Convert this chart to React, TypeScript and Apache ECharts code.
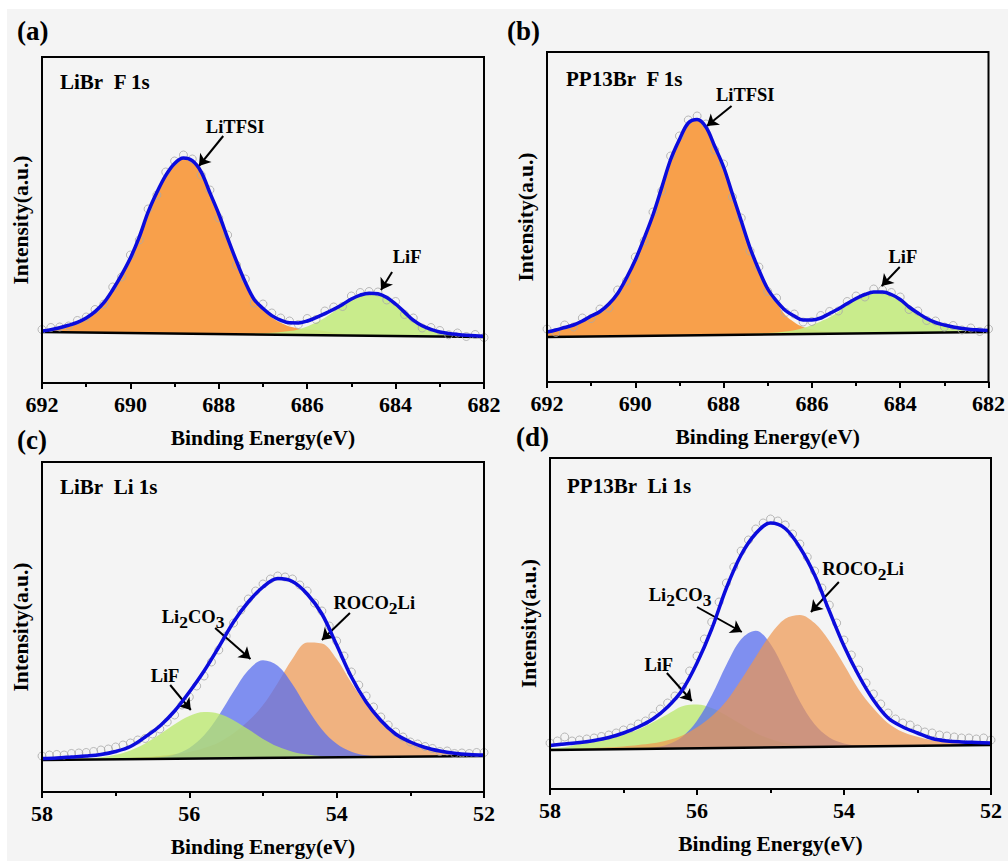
import React, { useEffect, useRef } from "react";
import * as echarts from "echarts";

// ---- Binding-energy grids (eV) ----
const energyF = [
  692, 691.8, 691.6, 691.4, 691.2, 691, 690.8, 690.6, 690.4, 690.2,
  690, 689.8, 689.6, 689.4, 689.2, 689, 688.8, 688.6, 688.4, 688.2,
  688, 687.8, 687.6, 687.4, 687.2, 687, 686.8, 686.6, 686.4, 686.2,
  686, 685.8, 685.6, 685.4, 685.2, 685, 684.8, 684.6, 684.4, 684.2,
  684, 683.8, 683.6, 683.4, 683.2, 683, 682.8, 682.6, 682.4, 682.2,
  682,
];
const energyLi = [
  58, 57.8, 57.6, 57.4, 57.2, 57, 56.8, 56.6, 56.4, 56.2,
  56, 55.8, 55.6, 55.4, 55.2, 55, 54.8, 54.6, 54.4, 54.2,
  54, 53.8, 53.6, 53.4, 53.2, 53, 52.8, 52.6, 52.4, 52.2,
  52,
];
const energyLiRaw = [
  58, 57.9, 57.8, 57.7, 57.6, 57.5, 57.4, 57.3, 57.2, 57.1,
  57, 56.9, 56.8, 56.7, 56.6, 56.5, 56.4, 56.3, 56.2, 56.1,
  56, 55.9, 55.8, 55.7, 55.6, 55.5, 55.4, 55.3, 55.2, 55.1,
  55, 54.9, 54.8, 54.7, 54.6, 54.5, 54.4, 54.3, 54.2, 54.1,
  54, 53.9, 53.8, 53.7, 53.6, 53.5, 53.4, 53.3, 53.2, 53.1,
  53, 52.9, 52.8, 52.7, 52.6, 52.5, 52.4, 52.3, 52.2, 52.1,
  52,
];

// ---- (a) LiBr, F 1s ----
const aRaw = [
  53.5, 55.5, 56, 57, 62.5, 66, 73.5, 79, 96, 106,
  128, 143, 174, 188, 211, 222, 228, 224, 208, 193,
  165, 148, 118, 104, 80, 79, 70, 65, 62, 58.5,
  64.5, 63.5, 72, 76, 76.5, 87, 90.5, 91.5, 91, 83,
  81.5, 68.5, 65, 55, 55.5, 52.5, 48.2, 50, 46.5, 48.5,
  45.5,
];
const aFit = [
  52, 53.4, 55.3, 57.7, 60.6, 65, 71.4, 80.3, 93.2, 108.1,
  125, 145.9, 170.8, 190.7, 207.6, 219.5, 224.9, 222.3, 211.2, 190.1,
  169, 144.9, 121.8, 100.7, 83.6, 74.5, 67.4, 62.8, 60.2, 60.1,
  62, 65.4, 69.3, 73.7, 78.6, 84, 87.9, 89.8, 89.2, 85.6,
  79, 70.9, 62.8, 57.2, 53.6, 51, 49.6, 48.6, 47.8, 47.2,
  46.8,
];
const aLiTFSI = [
  52, 53.4, 55.3, 57.7, 60.6, 65, 71.4, 80.3, 93.2, 108.1,
  125, 145.9, 170.8, 190.7, 207.6, 219.5, 224.9, 222.3, 211.2, 190.1,
  168.7, 144.5, 121.3, 100, 82.6, 73.2, 65.6, 60.2, 56.4, 54.6,
  53.5, 52.9, 51.8, 50.2, 49.3, 48.6, 48.4, 47.8, 47.5, 47.3,
  47.2, 47.1, 47, 46.9, 46.8, 46.7, 46.6, 46.5, 46.4, 46.3,
  46.2,
];
const aLiF = [
  51, 50.9, 50.8, 50.7, 50.6, 50.5, 50.4, 50.3, 50.2, 50.1,
  50, 49.9, 49.8, 49.7, 49.6, 49.5, 49.4, 49.3, 49.2, 49.1,
  49.3, 49.3, 49.3, 49.4, 49.6, 49.8, 50.2, 50.9, 52, 53.6,
  56.5, 60.4, 65.3, 71.2, 77.1, 82.5, 86.9, 89.6, 89, 85.5,
  79, 70.9, 62.8, 57.2, 53.6, 51, 49.6, 48.6, 47.8, 47.2,
  46.8,
];
const aBackground = [[692, 51], [682, 46]];

// ---- (b) PP13Br, F 1s ----
const bRaw = [
  53, 49.5, 57, 55, 64, 63.5, 73, 74, 92, 101,
  125, 141, 170, 191, 226, 246, 262, 266, 258, 232,
  218, 185, 164, 131, 115, 90.5, 84, 69.5, 68, 60,
  60.5, 66.5, 70.5, 71, 80.5, 86, 85, 93, 92, 89.5,
  85, 72.5, 71, 61.5, 61, 55, 56.5, 52, 54, 50.5,
  53,
];
const bFit = [
  50, 52, 54.5, 57, 61, 66, 70.5, 78, 88.6, 104,
  122, 143.7, 167, 194.6, 222.5, 242.6, 259, 262.5, 255, 235.5,
  215, 188, 161, 134, 112, 93, 81, 71.5, 66, 62,
  62, 64, 68.5, 73, 78.5, 83.5, 87.5, 90, 90, 87.5,
  82.5, 75, 69, 63.5, 59.5, 57, 55, 53.5, 52.5, 52,
  51.5,
];
const bLiTFSI = [
  50, 52, 54.5, 57, 61, 66, 70.5, 78, 88.6, 104,
  122, 143.7, 167, 194.6, 222.5, 242.6, 259, 262.5, 255, 235.5,
  214.6, 187.5, 160.3, 133.1, 110.9, 91.6, 79.2, 66.7, 59.8, 54.9,
  52.5, 51.1, 50.2, 49.8, 49.4, 49, 48.9, 48.8, 48.9, 49,
  49.1, 49.2, 49.3, 49.4, 49.5, 49.6, 49.7, 49.8, 49.9, 50,
  50.1,
];
const bLiF = [
  45, 45.1, 45.2, 45.3, 45.4, 45.5, 45.6, 45.7, 45.8, 45.9,
  46, 46.1, 46.2, 46.3, 46.4, 46.5, 46.6, 46.7, 46.8, 46.9,
  47.4, 47.6, 47.9, 48.2, 48.5, 48.9, 49.4, 50.5, 51.8, 53.9,
  57, 60.6, 64.7, 70.3, 76.9, 82.5, 87.1, 89.6, 89.7, 86.8,
  81.6, 74.9, 68.7, 63.3, 59.4, 57, 55, 53.5, 52.5, 52,
  51.5,
];
const bBackground = [[692, 45], [682, 50]];

// ---- (c) LiBr, Li 1s ----
const cRaw = [
  36, 37, 37.5, 37, 38.5, 39, 39.5, 40.5, 42, 43,
  45, 47, 49, 52, 53.5, 58, 63, 70, 77, 87,
  95, 106, 116, 130, 142, 156, 169, 182, 193, 201,
  208, 213, 216, 215, 213, 207, 201, 189, 181, 166,
  151, 136, 120, 107, 96, 85, 75, 67, 60, 55,
  50, 48, 45.5, 43.5, 40.5, 41, 38.5, 39, 38.5, 39.5,
  39.5,
];
const cFit = [
  33.5, 34, 35, 36, 37.5, 40.5, 45.5, 55, 66, 81,
  100, 121, 145, 170, 190, 205, 213.5, 210.5, 198, 178,
  147, 115, 90, 71.5, 58, 50, 44.5, 41, 38.7, 37.5,
  37,
];
const cLiF = [
  32.3, 32.6, 33.1, 33.7, 34.8, 37.3, 41.6, 48.5, 57.8, 67.7,
  75.9, 79.9, 78.3, 71.8, 62.7, 53.1, 45.4, 40.3, 37.4, 35.8,
  35.3, 35.1, 35, 35.1, 35.2, 35.3, 35.5, 35.6, 35.7, 35.9,
  36,
];
const cLi2CO3 = [
  32, 32.1, 32.3, 32.4, 32.5, 33, 33.3, 33.7, 34.7, 37.4,
  44, 56.7, 76.6, 100.4, 121.8, 131.8, 126.2, 107.7, 83.7, 62.6,
  48.2, 40.3, 36.8, 35.8, 35.5, 35.3, 35.5, 35.6, 35.7, 35.9,
  36,
];
const cROCO2Li = [
  32.5, 32.7, 33, 33.2, 33.4, 33.8, 34.3, 34.9, 36.1, 37.7,
  40.1, 44, 49.6, 58.7, 70.9, 87, 109.1, 133.3, 149.4, 148.5,
  132.9, 109.2, 87.9, 70.8, 57.7, 50, 44.5, 41, 38.7, 37.5,
  37,
];
const cBackground = [[58, 32], [52, 36]];

// ---- (d) PP13Br, Li 1s ----
const dRaw = [
  46, 48, 52, 48, 49, 50, 51, 52.5, 54, 56,
  59, 61, 65, 68, 73, 80, 86, 93, 102, 118,
  133, 150, 167, 187, 206, 222, 238, 249, 260, 266,
  270, 268, 264, 255, 245, 232, 218, 201, 184, 166,
  149, 134, 119, 106, 95, 85, 76, 70, 66, 64,
  60, 57, 56, 54, 53, 52, 51, 51, 50, 51,
  49,
];
const dFit = [
  43.5, 45, 46.5, 48.5, 51.5, 56, 62, 70, 82, 99,
  126, 160, 201, 234, 255.5, 266, 260.5, 241.5, 214, 178,
  143, 113.5, 89, 71, 62, 56, 50.5, 48, 47, 46.5,
  46,
];
const dLiF = [
  40.5, 41.7, 45.3, 48.5, 50.7, 54.3, 59.5, 66.7, 74.8, 82.8,
  84.6, 81.1, 73.6, 64.7, 56.1, 49.9, 45.9, 43.6, 42.8, 42.6,
  42.5, 42.7, 42.9, 43, 43.2, 43.3, 43.5, 43.6, 43.8, 44,
  44.1,
];
const dLi2CO3 = [
  39, 39.2, 39.3, 39.5, 39.7, 39.9, 40.3, 41.4, 44.5, 52.3,
  68.2, 93.4, 124.3, 149.8, 158.3, 145.1, 117.5, 87.5, 64.7, 51.5,
  45.5, 43.4, 42.9, 42.8, 43, 43.2, 43.3, 43.5, 43.7, 43.8,
  44,
];
const dROCO2Li = [
  39.5, 39.9, 40.3, 40.9, 41.7, 42.6, 44, 45.7, 48.8, 53.5,
  61.7, 72.8, 88, 109.2, 132.3, 154.5, 170.2, 174.1, 165.9, 148,
  124.3, 99.5, 80.7, 65.8, 57, 52.2, 48.8, 47.2, 46.2, 45.3,
  44.8,
];
const dBackground = [[58, 39], [52, 44]];

// ---- styling ----
const SERIF = '"Liberation Serif", "Times New Roman", Times, serif';
const BG = "#f4f4f4";
const FIT_BLUE = "#0b0bdc";
const ORANGE_SOLID = "#f8a04b";
const GREEN_SOFT = "rgba(196, 234, 130, 0.92)";
const ORANGE_T = "rgba(238, 149, 78, 0.7)";
const BLUE_T = "rgba(88, 109, 239, 0.75)";
const GREEN_T = "rgba(185, 232, 105, 0.75)";

type Note = { text: string; at: number[]; from: number[]; tip: number[] };
type Peak = { name: string; values: number[]; color: string };
type Panel = {
  grid: { left: number; top: number; width: number; height: number };
  xMin: number;
  xMax: number;
  yMax: number;
  energy: number[];
  rawEnergy: number[];
  raw: number[];
  fit: number[];
  background: number[][];
  peaks: Peak[];
  notes: Note[];
};

const zip = (xs: number[], ys: number[]) => xs.map((x, i) => [x, ys[i]]);

const panels: Panel[] = [
  {
    grid: { left: 42, top: 57, width: 442, height: 326 },
    xMin: 682, xMax: 692, yMax: 326,
    energy: energyF, rawEnergy: energyF,
    raw: aRaw, fit: aFit, background: aBackground,
    peaks: [
      { name: "LiTFSI", values: aLiTFSI, color: ORANGE_SOLID },
      { name: "LiF", values: aLiF, color: GREEN_SOFT },
    ],
    notes: [
      { text: "{m|LiTFSI}", at: [687.63, 256], from: [687.9, 247], tip: [688.45, 217] },
      { text: "{m|LiF}", at: [683.74, 126], from: [684.08, 111], tip: [684.33, 93] },
    ],
  },
  {
    grid: { left: 547, top: 52, width: 443, height: 330 },
    xMin: 682, xMax: 692, yMax: 330,
    energy: energyF, rawEnergy: energyF,
    raw: bRaw, fit: bFit, background: bBackground,
    peaks: [
      { name: "LiTFSI", values: bLiTFSI, color: ORANGE_SOLID },
      { name: "LiF", values: bLiF, color: GREEN_SOFT },
    ],
    notes: [
      { text: "{m|LiTFSI}", at: [687.51, 287], from: [687.82, 276], tip: [688.38, 256] },
      { text: "{m|LiF}", at: [683.94, 125], from: [684.01, 115], tip: [684.42, 96] },
    ],
  },
  {
    grid: { left: 42, top: 462, width: 442, height: 330 },
    xMin: 52, xMax: 58, yMax: 330,
    energy: energyLi, rawEnergy: energyLiRaw,
    raw: cRaw, fit: cFit, background: cBackground,
    peaks: [
      { name: "ROCO2Li", values: cROCO2Li, color: ORANGE_T },
      { name: "Li2CO3", values: cLi2CO3, color: BLUE_T },
      { name: "LiF", values: cLiF, color: GREEN_T },
    ],
    notes: [
      { text: "{m|LiF}", at: [56.33, 116], from: [56.26, 107], tip: [55.98, 82] },
      { text: "{m|Li}{s|2}{m|CO}{s|3}", at: [55.95, 175], from: [55.65, 164], tip: [55.17, 133] },
      { text: "{m|ROCO}{s|2}{m|Li}", at: [53.49, 189], from: [53.82, 179], tip: [54.2, 152] },
    ],
  },
  {
    grid: { left: 550, top: 458, width: 441, height: 331 },
    xMin: 52, xMax: 58, yMax: 331,
    energy: energyLi, rawEnergy: energyLiRaw,
    raw: dRaw, fit: dFit, background: dBackground,
    peaks: [
      { name: "LiF", values: dLiF, color: GREEN_T },
      { name: "Li2CO3", values: dLi2CO3, color: BLUE_T },
      { name: "ROCO2Li", values: dROCO2Li, color: ORANGE_T },
    ],
    notes: [
      { text: "{m|LiF}", at: [56.52, 124], from: [56.41, 116], tip: [56.07, 88] },
      { text: "{m|Li}{s|2}{m|CO}{s|3}", at: [56.23, 194], from: [56.0, 182], tip: [55.39, 157] },
      { text: "{m|ROCO}{s|2}{m|Li}", at: [53.74, 220], from: [54.07, 207], tip: [54.45, 177] },
    ],
  },
];

const panelLetters = [
  { text: "(a)", x: 17, y: 31 },
  { text: "(b)", x: 507, y: 31 },
  { text: "(c)", x: 17, y: 440 },
  { text: "(d)", x: 516, y: 437 },
];
const panelTitles = [
  { text: "LiBr\u00a0 F 1s", x: 60, y: 82 },
  { text: "PP13Br\u00a0 F 1s", x: 566, y: 79 },
  { text: "LiBr\u00a0 Li 1s", x: 60, y: 487 },
  { text: "PP13Br\u00a0 Li 1s", x: 567, y: 486 },
];

const tickFont = { fontFamily: SERIF, fontWeight: "bold" as const, fontSize: 22, color: "#000" };
const nameFont = { fontFamily: SERIF, fontWeight: "bold" as const, fontSize: 21.5, color: "#000" };
const noteText = {
  fontFamily: SERIF,
  fontWeight: "bold" as const,
  color: "#000",
  opacity: 1,
  textBorderWidth: 0,
  textBorderColor: "transparent",
};

function buildOption() {
  const grid = panels.map((p) => ({
    ...p.grid,
    show: true,
    borderColor: "#000",
    borderWidth: 2,
    backgroundColor: "transparent",
    z: 10,
  }));

  const xAxis = panels.map((p, i) => ({
    gridIndex: i,
    type: "value",
    min: p.xMin,
    max: p.xMax,
    interval: 2,
    inverse: true,
    z: 10,
    axisLine: { show: true, lineStyle: { color: "#000", width: 2 } },
    axisTick: { show: true, inside: false, length: 6, lineStyle: { color: "#000", width: 2 } },
    minorTick: { show: true, splitNumber: 2, length: 4, lineStyle: { color: "#000", width: 2 } },
    axisLabel: { ...tickFont, margin: 10, showMinLabel: true, showMaxLabel: true },
    splitLine: { show: false },
    minorSplitLine: { show: false },
    name: "Binding Energy(eV)",
    nameLocation: "middle",
    nameGap: 44,
    nameTextStyle: nameFont,
  }));

  const yAxis = panels.map((p, i) => ({
    gridIndex: i,
    type: "value",
    min: 0,
    max: p.yMax,
    axisLine: { show: false },
    axisTick: { show: false },
    axisLabel: { show: false },
    splitLine: { show: false },
    name: "Intensity(a.u.)",
    nameLocation: "middle",
    nameGap: 10,
    nameTextStyle: nameFont,
  }));

  const series: any[] = [];
  panels.forEach((p, i) => {
    p.peaks.forEach((pk) => {
      series.push({
        type: "line",
        name: pk.name,
        xAxisIndex: i,
        yAxisIndex: i,
        data: zip(p.energy, pk.values),
        smooth: 0.35,
        symbol: "none",
        lineStyle: { width: 0 },
        areaStyle: { color: pk.color, opacity: 1, origin: "start" },
        z: 2,
        silent: true,
      });
    });
    // Linear background: its fill hides the peak areas underneath it.
    series.push({
      type: "line",
      name: "Background",
      xAxisIndex: i,
      yAxisIndex: i,
      data: p.background,
      symbol: "none",
      lineStyle: { color: "#000", width: 2.5 },
      areaStyle: { color: BG, opacity: 1, origin: "start" },
      z: 3,
      silent: true,
    });
    series.push({
      type: "scatter",
      name: "Raw",
      xAxisIndex: i,
      yAxisIndex: i,
      data: zip(p.rawEnergy, p.raw),
      symbol: "circle",
      symbolSize: 8,
      itemStyle: { color: "rgba(0,0,0,0)", borderColor: "#a9a9a9", borderWidth: 1 },
      z: 4,
      silent: true,
    });
    series.push({
      type: "line",
      name: "Fitted",
      xAxisIndex: i,
      yAxisIndex: i,
      data: zip(p.energy, p.fit),
      smooth: 0.35,
      symbol: "none",
      lineStyle: { color: FIT_BLUE, width: 3.5 },
      z: 5,
      silent: true,
    });
    series.push({
      type: "scatter",
      name: "Notes",
      xAxisIndex: i,
      yAxisIndex: i,
      symbolSize: 0,
      silent: true,
      z: 6,
      itemStyle: { color: "#000", opacity: 1 },
      data: p.notes.map((n) => ({ value: n.at, label: { formatter: n.text } })),
      label: {
        show: true,
        position: "inside",
        color: "#000",
        opacity: 1,
        textBorderWidth: 0,
        textBorderColor: "transparent",
        rich: {
          m: { ...noteText, fontSize: 18.5 },
          s: { ...noteText, fontSize: 17.5, padding: [9, 0, 0, 0] },
        },
      },
      markLine: {
        silent: true,
        symbol: ["none", "arrow"],
        symbolSize: 11,
        label: { show: false },
        lineStyle: { color: "#000", width: 2, type: "solid", opacity: 1 },
        itemStyle: { color: "#000", opacity: 1 },
        emphasis: { disabled: true },
        data: p.notes.map((n) => [{ coord: n.from }, { coord: n.tip }]),
      },
    });
  });

  const graphic: any[] = [
    { type: "rect", shape: { x: 0, y: 0, width: 1008, height: 9 }, style: { fill: "#fff" }, silent: true },
    { type: "rect", shape: { x: 0, y: 0, width: 7, height: 861 }, style: { fill: "#fff" }, silent: true },
  ];
  panelLetters.forEach((t) =>
    graphic.push({
      type: "text",
      x: t.x,
      y: t.y,
      silent: true,
      style: { text: t.text, font: `bold 27px ${SERIF}`, fill: "#000", textAlign: "left", textVerticalAlign: "middle" },
    })
  );
  panelTitles.forEach((t) =>
    graphic.push({
      type: "text",
      x: t.x,
      y: t.y,
      silent: true,
      style: { text: t.text, font: `bold 21px ${SERIF}`, fill: "#000", textAlign: "left", textVerticalAlign: "middle" },
    })
  );

  return {
    animation: false,
    backgroundColor: BG,
    grid,
    xAxis,
    yAxis,
    series,
    graphic,
  };
}

export default function App() {
  const ref = useRef<HTMLDivElement>(null);
  useEffect(() => {
    if (!ref.current) return;
    const chart = echarts.init(ref.current, null, { renderer: "svg" });
    chart.setOption(buildOption() as any);
    return () => chart.dispose();
  }, []);
  return (
    <div
      ref={ref}
      style={{ position: "absolute", left: 0, top: 0, width: 1008, height: 861 }}
    />
  );
}
